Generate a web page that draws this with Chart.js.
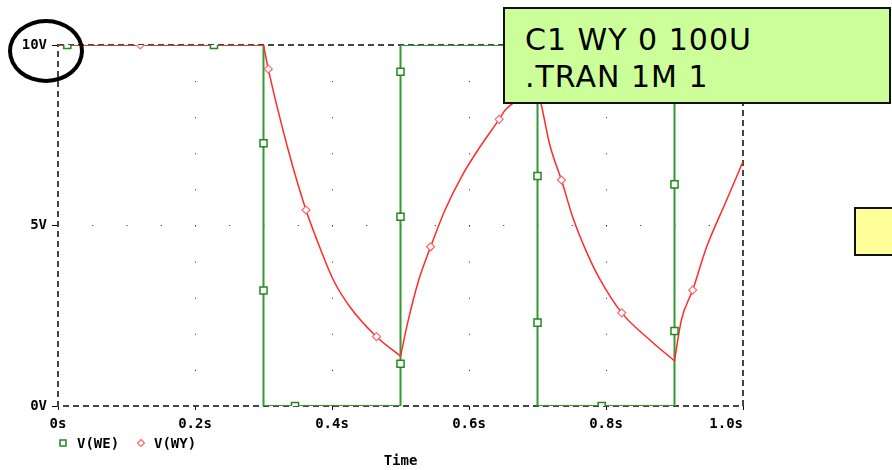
<!DOCTYPE html>
<html>
<head>
<meta charset="utf-8">
<title>V(WE) / V(WY)</title>
<script src="https://cdn.jsdelivr.net/npm/chart.js@4.4.0/dist/chart.umd.min.js"></script>
<style>
  body { margin: 0; background: #fff; }
  #wrap { position: relative; width: 892px; height: 470px; overflow: hidden; }
  #note {
    position: absolute; left: 503px; top: 7px; width: 388px; height: 97px;
    box-sizing: border-box; background: #ccff99; border: 2px solid #111;
    font-family: 'DejaVu Sans', Verdana, sans-serif; font-size: 30px; line-height: 37px;
    letter-spacing: 1px; padding: 12px 0 0 20px; color: #000; white-space: pre;
  }
  #ybox {
    position: absolute; left: 854px; top: 207px; width: 60px; height: 49px;
    box-sizing: border-box; background: #ffff99; border: 2px solid #111;
  }
  #ring {
    position: absolute; left: 8px; top: 19px; width: 76px; height: 64px;
    box-sizing: border-box; border: 4px solid #000; border-radius: 50%;
  }
</style>
</head>
<body>
<div id="wrap">
  <canvas id="spice" width="892" height="470"></canvas>
  <div id="note">C1 WY 0 100U
.TRAN 1M 1</div>
  <div id="ybox"></div>
  <div id="ring"></div>
</div>
<script>
// time in s, voltage in V
var weTime  = [0, 0.3, 0.3, 0.5, 0.5, 0.7, 0.7, 0.9, 0.9, 1.0];
var weVolts = [10, 10, 0, 0, 10, 10, 0, 0, 10, 10];

// V(WY), one list per switching interval
var wyTime1  = [0, 0.3];
var wyVolts1 = [10, 10];
var wyTime2  = [0.3, 0.307, 0.336, 0.362, 0.378, 0.402, 0.426, 0.465, 0.5];
var wyVolts2 = [10, 9.33, 7.1, 5.43, 4.6, 3.49, 2.75, 1.92, 1.38];
var wyTime3  = [0.5, 0.511, 0.526, 0.544, 0.565, 0.589, 0.614, 0.644, 0.653, 0.7];
var wyVolts3 = [1.38, 2.35, 3.45, 4.41, 5.43, 6.35, 7.12, 7.94, 8.2, 8.8];
var wyTime4  = [0.7, 0.706, 0.718, 0.735, 0.752, 0.772, 0.79, 0.823, 0.864, 0.9];
var wyVolts4 = [8.8, 8.31, 7.23, 6.26, 5.2, 4.25, 3.55, 2.58, 1.83, 1.25];
var wyTime5  = [0.9, 0.91, 0.9265, 0.947, 0.976, 1.0];
var wyVolts5 = [1.25, 2.38, 3.21, 4.41, 5.7, 6.77];

// trace markers as the simulator placed them
var weMarkT = [0.0136, 0.2277, 0.3, 0.3, 0.346, 0.5, 0.5, 0.5, 0.676, 0.7, 0.7, 0.7937, 0.9, 0.9, 0.911];
var weMarkV = [10, 10, 7.28, 3.2, 0, 1.17, 5.24, 9.26, 10, 6.37, 2.31, 0, 2.08, 6.14, 10];
var wyMarkT = [0.12, 0.307, 0.362, 0.465, 0.544, 0.644, 0.735, 0.823, 0.9265];
var wyMarkV = [10, 9.33, 5.43, 1.92, 4.41, 7.94, 6.26, 2.58, 3.21];

var timeTicks = [0, 0.2, 0.4, 0.6, 0.8, 1.0];
var voltTicks = [0, 5, 10];

function pts(xs, ys) {
  return xs.map(function (x, i) { return {x: x, y: ys[i]}; });
}

// join segments with a gap so every corner stays sharp
function joined() {
  var out = [];
  for (var i = 0; i < arguments.length; i += 2) {
    if (out.length) out.push({x: arguments[i][0], y: null});
    out = out.concat(pts(arguments[i], arguments[i + 1]));
  }
  return out;
}

var monoFont = {family: "'DejaVu Sans Mono', monospace", size: 14, weight: 'bold'};

var framePlugin = {
  id: 'frame',
  beforeDatasetsDraw: function (chart) {
    var a = chart.chartArea, ctx = chart.ctx;
    ctx.save();
    ctx.strokeStyle = '#444';
    ctx.lineWidth = 2;
    ctx.setLineDash([6, 4]);
    ctx.strokeRect(a.left, a.top, a.right - a.left, a.bottom - a.top);
    ctx.restore();
  },
  afterDraw: function (chart) {
    var ctx = chart.ctx;
    var we = chart.data.datasets[3], wy = chart.data.datasets[2];
    ctx.save();
    ctx.font = "bold 14px 'DejaVu Sans Mono', monospace";
    ctx.textBaseline = 'middle';
    ctx.fillStyle = '#000';
    // green square
    ctx.strokeStyle = '#228822';
    ctx.lineWidth = 1.5;
    ctx.strokeRect(60, 440, 6, 6);
    ctx.fillText(we.label, 77, 444);
    // red diamond
    ctx.strokeStyle = '#ff6666';
    ctx.lineWidth = 1.2;
    ctx.beginPath();
    ctx.moveTo(141, 439.5); ctx.lineTo(144.5, 443); ctx.lineTo(141, 446.5); ctx.lineTo(137.5, 443);
    ctx.closePath();
    ctx.stroke();
    ctx.fillText(wy.label, 154, 444);
    ctx.restore();
  }
};

new Chart(document.getElementById('spice'), {
  type: 'scatter',
  data: {
    datasets: [
      {
        label: 'WE marks', data: pts(weMarkT, weMarkV), showLine: false,
        pointStyle: 'rect', pointRadius: 5, borderColor: '#228822',
        backgroundColor: '#fff', borderWidth: 1.5
      },
      {
        label: 'WY marks', data: pts(wyMarkT, wyMarkV), showLine: false,
        pointStyle: 'rectRot', pointRadius: 4, borderColor: '#ff6666',
        backgroundColor: '#fff', borderWidth: 1.2
      },
      {
        label: 'V(WY)',
        data: joined(wyTime1, wyVolts1, wyTime2, wyVolts2, wyTime3, wyVolts3,
                     wyTime4, wyVolts4, wyTime5, wyVolts5),
        showLine: true, spanGaps: false, cubicInterpolationMode: 'monotone',
        borderColor: '#ff2a2a', borderWidth: 1.5, pointRadius: 0
      },
      {
        label: 'V(WE)', data: pts(weTime, weVolts), showLine: true,
        borderColor: '#339933', borderWidth: 2, pointRadius: 0, tension: 0
      }
    ]
  },
  options: {
    responsive: false,
    animation: false,
    events: [],
    layout: {padding: {left: 0, top: 45, right: 149, bottom: 0}},
    plugins: {legend: {display: false}, tooltip: {enabled: false}},
    scales: {
      x: {
        type: 'linear', min: 0, max: 1,
        afterBuildTicks: function (s) { s.ticks = timeTicks.map(function (v) { return {value: v}; }); },
        afterFit: function (s) { s.height = 64; },
        ticks: {
          color: '#000', font: monoFont, padding: 6, maxRotation: 0,
          callback: function (v) {
            if (v === 0) return '0s';
            if (v === 1) return '1.0s    ';
            return v.toFixed(1) + 's';
          }
        },
        grid: {
          color: function (c) {
            var v = c.tick ? c.tick.value : 0;
            return (v > 0.01 && v < 0.99) ? '#222' : 'rgba(0,0,0,0)';
          },
          lineWidth: 1, tickColor: '#000', tickLength: 4, tickWidth: 1
        },
        border: {display: false, dash: [1, 35.1]},
        title: {display: true, text: 'Time', color: '#000', font: monoFont, padding: {top: 0, bottom: 0}}
      },
      y: {
        type: 'linear', min: 0, max: 10,
        afterBuildTicks: function (s) { s.ticks = voltTicks.map(function (v) { return {value: v}; }); },
        afterFit: function (s) { s.width = 58; },
        ticks: {
          color: '#000', font: monoFont, padding: 5,
          callback: function (v) { return v + 'V'; }
        },
        grid: {
          color: function (c) {
            var v = c.tick ? c.tick.value : 0;
            return v === 5 ? '#222' : 'rgba(0,0,0,0)';
          },
          lineWidth: 1, tickColor: '#000', tickLength: 6, tickWidth: 1
        },
        border: {display: false, dash: [1, 33.25]}
      }
    }
  },
  plugins: [framePlugin]
});
</script>
</body>
</html>
